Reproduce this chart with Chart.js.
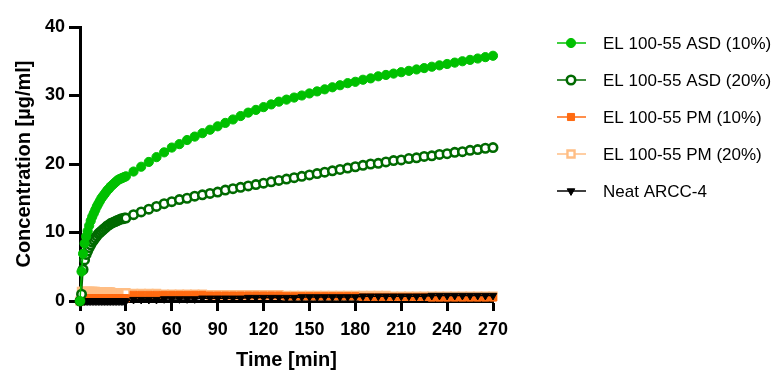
<!DOCTYPE html>
<html>
<head>
<meta charset="utf-8">
<script src="https://cdn.jsdelivr.net/npm/chart.js@4/dist/chart.umd.min.js"></script>
<style>
  body { margin: 0; background: #fff; }
</style>
</head>
<body>
<canvas id="releaseChart" width="776" height="371"></canvas>
<script>
// sampling times [min]
const times = [0, 1, 2, 3, 4, 5, 6, 7, 8, 9, 10, 11, 12, 13, 14, 15, 16, 17, 18, 19, 20,
  21, 22, 23, 24, 25, 26, 27, 28, 29, 30,
  35, 40, 45, 50, 55, 60, 65, 70, 75, 80, 85, 90, 95, 100, 105, 110, 115, 120, 125, 130,
  135, 140, 145, 150, 155, 160, 165, 170, 175, 180, 185, 190, 195, 200, 205, 210, 215, 220,
  225, 230, 235, 240, 245, 250, 255, 260, 265, 270];

const asd10 = [0, 4.3, 6.9, 8.4, 9.4, 10.2, 11.0, 11.7, 12.3, 12.8, 13.3, 13.8, 14.2, 14.6, 15.0,
  15.3, 15.6, 15.9, 16.2, 16.4, 16.7, 16.9, 17.1, 17.3, 17.5, 17.7, 17.8, 17.9, 18.0, 18.1, 18.2,
  18.9, 19.6, 20.3, 21.0, 21.7, 22.4, 22.9, 23.5, 24.0, 24.5, 25.0, 25.5, 26.0, 26.5, 27.0,
  27.5, 27.9, 28.3, 28.7, 29.1, 29.4, 29.7, 30.0, 30.3, 30.6, 30.9, 31.2, 31.5, 31.8, 32.0,
  32.3, 32.5, 32.8, 33.0, 33.2, 33.4, 33.6, 33.8, 34.0, 34.2, 34.4, 34.6, 34.8, 35.0, 35.2,
  35.4, 35.6, 35.8];

const asd20 = [0, 1.0, 4.6, 6.0, 6.8, 7.3, 7.8, 8.2, 8.6, 8.9, 9.2, 9.5, 9.8, 10.0, 10.2,
  10.4, 10.6, 10.8, 11.0, 11.1, 11.3, 11.4, 11.5, 11.6, 11.7, 11.8, 11.9, 12.0, 12.0, 12.1, 12.1,
  12.6, 13.0, 13.4, 13.8, 14.2, 14.5, 14.8, 15.0, 15.3, 15.5, 15.7, 15.9, 16.2, 16.4, 16.6,
  16.8, 17.0, 17.2, 17.4, 17.6, 17.8, 18.0, 18.2, 18.4, 18.6, 18.8, 19.0, 19.2, 19.4, 19.6,
  19.8, 20.0, 20.1, 20.3, 20.5, 20.6, 20.8, 20.9, 21.1, 21.2, 21.4, 21.5, 21.7, 21.8, 22.0,
  22.1, 22.3, 22.4];

const pm10 = [0, 0.4, 0.4, 0.4, 0.4, 0.4, 0.4, 0.4, 0.4, 0.4, 0.4, 0.4, 0.4, 0.4, 0.4,
  0.4, 0.4, 0.4, 0.4, 0.4, 0.4, 0.4, 0.4, 0.4, 0.4, 0.4, 0.4, 0.4, 0.4, 0.4, 0.4,
  0.9, 0.9, 0.9, 0.9, 0.9, 0.9, 0.9, 0.9, 0.9, 0.9, 0.8, 0.8, 0.8, 0.8, 0.8,
  0.8, 0.8, 0.8, 0.8, 0.8, 0.7, 0.7, 0.7, 0.7, 0.7, 0.7, 0.7, 0.7, 0.7, 0.7,
  0.6, 0.6, 0.6, 0.6, 0.6, 0.6, 0.6, 0.6, 0.6, 0.5, 0.5, 0.5, 0.5, 0.5, 0.5,
  0.5, 0.5, 0.5];

const pm20 = [0, 1.4, 1.4, 1.4, 1.4, 1.4, 1.4, 1.4, 1.4, 1.4, 1.4, 1.3, 1.3, 1.3, 1.3,
  1.3, 1.3, 1.3, 1.3, 1.3, 1.3, 1.2, 1.2, 1.2, 1.2, 1.2, 1.2, 1.2, 1.2, 1.2, 1.2,
  1.1, 1.1, 1.1, 1.1, 1.0, 1.0, 1.0, 1.0, 1.0, 1.0, 0.9, 0.9, 0.9, 0.9, 0.9,
  0.9, 0.9, 0.9, 0.9, 0.9, 0.8, 0.8, 0.8, 0.8, 0.8, 0.8, 0.8, 0.8, 0.8, 0.8,
  0.8, 0.8, 0.8, 0.8, 0.7, 0.7, 0.7, 0.7, 0.7, 0.7, 0.7, 0.7, 0.7, 0.7, 0.7,
  0.7, 0.7, 0.7];

const neat = [0, 0, 0, 0, 0, 0, 0, 0, 0, 0, 0, 0, 0, 0, 0,
  0, 0, 0, 0, 0, 0, 0, 0, 0, 0, 0, 0, 0, 0, 0, 0,
  0.2, 0.2, 0.2, 0.2, 0.3, 0.3, 0.3, 0.3, 0.3, 0.4, 0.4, 0.4, 0.4, 0.4, 0.4,
  0.5, 0.5, 0.5, 0.5, 0.5, 0.5, 0.5, 0.6, 0.6, 0.6, 0.6, 0.6, 0.6, 0.6, 0.6,
  0.7, 0.7, 0.7, 0.7, 0.7, 0.7, 0.7, 0.7, 0.7, 0.8, 0.8, 0.8, 0.8, 0.8, 0.8,
  0.8, 0.8, 0.8];

const seriesNames = ["EL 100-55 ASD (10%)", "EL 100-55 ASD (20%)", "EL 100-55 PM (10%)",
  "EL 100-55 PM (20%)", "Neat ARCC-4"];
const xTicks = [0, 30, 60, 90, 120, 150, 180, 210, 240, 270];
const yTicks = [0, 10, 20, 30, 40];

const toPoints = (vals) => times.map((t, i) => ({ x: t, y: vals[i] }));

const font = "'Liberation Sans', Arial, sans-serif";

const sideLegend = {
    id: "sideLegend",
    afterDraw(chart) {
        const ctx = chart.ctx;
        chart.data.datasets.forEach((ds, i) => {
            const y = 43 + i * 37;
            ctx.save();
            ctx.strokeStyle = ds.borderColor;
            ctx.lineWidth = 1.5;
            ctx.beginPath();
            ctx.moveTo(557, y);
            ctx.lineTo(586, y);
            ctx.stroke();
            ctx.fillStyle = ds.pointBackgroundColor;
            ctx.strokeStyle = ds.pointBorderColor;
            ctx.lineWidth = ds.pointBorderWidth;
            Chart.helpers.drawPoint(ctx, {
                pointStyle: ds.pointStyle,
                rotation: ds.pointRotation || 0,
                radius: ds.pointRadius,
                borderWidth: ds.pointBorderWidth
            }, 571, y);
            ctx.fillStyle = "#000";
            ctx.font = "17px " + font;
            ctx.textBaseline = "middle";
            ctx.fillText(ds.label, 603, y + 1);
            ctx.restore();
        });
    }
};

const mkSet = (i, vals, color, fill, style, extra) => Object.assign({
    label: seriesNames[i],
    data: toPoints(vals),
    borderColor: color,
    borderWidth: 1.5,
    pointStyle: style,
    pointRadius: 4.6,
    pointBackgroundColor: fill,
    pointBorderColor: color,
    pointBorderWidth: 1,
    clip: false
}, extra);

new Chart(document.getElementById("releaseChart"), {
    type: "line",
    data: {
        datasets: [
            mkSet(0, asd10, "#00c000", "#00c000", "circle", { order: 1 }),
            mkSet(1, asd20, "#006a00", "#ffffff", "circle", { order: 2, pointBorderWidth: 2.6, pointRadius: 4.2 }),
            mkSet(2, pm10, "#ff6a10", "#ff6a10", "rect", { order: 4, pointRadius: 5 }),
            mkSet(3, pm20, "#ffbe85", "#ffffff", "rect", { order: 5, pointBorderWidth: 2.4, pointRadius: 5 }),
            mkSet(4, neat, "#000000", "#000000", "triangle", { order: 3, pointRotation: 180, pointRadius: 4.4 })
        ]
    },
    options: {
        responsive: false,
        animation: false,
        layout: { padding: { top: 27, right: 283, left: 0, bottom: 0 } },
        plugins: { legend: { display: false }, tooltip: { enabled: false } },
        scales: {
            x: {
                type: "linear",
                min: 0,
                max: 270,
                afterFit: (s) => { s.height = 70; },
                afterBuildTicks: (s) => { s.ticks = xTicks.map((v) => ({ value: v })); },
                ticks: { color: "#000", padding: 8, font: { family: font, size: 18, weight: "bold" } },
                grid: { drawOnChartArea: false, tickLength: 10, tickWidth: 3, tickColor: "#000" },
                border: { color: "#000", width: 3 },
                title: {
                    display: true,
                    text: "Time [min]",
                    color: "#000",
                    padding: { top: 0, bottom: 1 },
                    font: { family: font, size: 20, weight: "bold", lineHeight: 1 }
                }
            },
            y: {
                min: 0,
                max: 40,
                afterFit: (s) => { s.width = 80; },
                afterBuildTicks: (s) => { s.ticks = yTicks.map((v) => ({ value: v })); },
                ticks: { color: "#000", padding: 4, font: { family: font, size: 18, weight: "bold" } },
                grid: { drawOnChartArea: false, tickLength: 11, tickWidth: 3, tickColor: "#000" },
                border: { color: "#000", width: 3 },
                title: {
                    display: true,
                    text: "Concentration [µg/ml]",
                    color: "#000",
                    padding: { top: 14, bottom: 0 },
                    font: { family: font, size: 20, weight: "bold", lineHeight: 1 }
                }
            }
        }
    },
    plugins: [sideLegend]
});
</script>
</body>
</html>
